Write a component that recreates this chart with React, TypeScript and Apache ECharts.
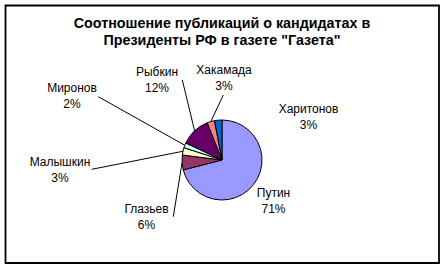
import React, { useEffect, useRef } from "react";
import * as echarts from "echarts";

const titleText = 'Соотношение публикаций о кандидатах в\nПрезиденты РФ в газете "Газета"';
const names = ["Путин", "Глазьев", "Малышкин", "Миронов", "Рыбкин", "Хакамада", "Харитонов"];
const values = [71, 6, 3, 2, 12, 3, 3];
const colors = ["#9999FF", "#993366", "#FFFFCC", "#CCFFFF", "#660066", "#FF8080", "#0066CC"];

// label block centres and leader-line ends (layout only)
const labelCenters: [number, number][] = [
  [273.5, 200.5],
  [146.5, 216.7],
  [60, 169.5],
  [72, 95.8],
  [157, 79.8],
  [224, 77.5],
  [308.5, 116.8],
];
const lineEnds: ([number, number] | null)[] = [
  null,
  [173.3, 216.7],
  [91.7, 169.3],
  [98.3, 96.7],
  [182.3, 80],
  [223.3, 95],
  null,
];

const FONT = "'Liberation Sans', Arial, sans-serif";

export default function App() {
  const ref = useRef<HTMLDivElement>(null);
  useEffect(() => {
    if (!ref.current) return;
    const chart = echarts.init(ref.current, undefined, { renderer: "svg" });
    chart.setOption({
      animation: false,
      backgroundColor: "#ffffff",
      title: {
        text: titleText,
        left: "center",
        top: 14,
        padding: 0,
        textStyle: {
          fontFamily: FONT,
          fontSize: 14.3,
          fontWeight: "bold",
          lineHeight: 17,
          color: "#000",
        },
      },
      graphic: [
        {
          type: "rect",
          shape: { x: 5.5, y: 5.5, width: 433.5, height: 257.5 },
          style: { fill: "none", stroke: "#000", lineWidth: 1.8 },
          silent: true,
        },
      ],
      series: [
        {
          type: "pie",
          center: [222, 160],
          radius: 40,
          startAngle: 90,
          clockwise: true,
          avoidLabelOverlap: false,
          itemStyle: { borderColor: "#000", borderWidth: 1 },
          label: {
            show: true,
            position: "outside",
            fontFamily: FONT,
            fontSize: 12,
            lineHeight: 16,
            color: "#000",
            align: "center",
            formatter: (p: any) => `${p.name}\n${Math.round(p.percent)}%`,
          },
          labelLine: {
            show: true,
            lineStyle: { color: "#000", width: 1 },
          },
          labelLayout: (p: any) => {
            const i = p.dataIndex;
            const c = labelCenters[i];
            const end = lineEnds[i];
            const res: any = {
              x: c[0],
              y: c[1],
              align: "center",
              verticalAlign: "middle",
            };
            if (end && p.labelLinePoints && p.labelLinePoints[0]) {
              const s = p.labelLinePoints[0];
              res.labelLinePoints = [
                [s[0], s[1]],
                [end[0], end[1]],
                [end[0], end[1]],
              ];
            }
            return res;
          },
          data: names.map((n, i) => ({
            name: n,
            value: values[i],
            itemStyle: { color: colors[i] },
            labelLine: { show: lineEnds[i] !== null },
          })),
        },
      ],
    });
    return () => chart.dispose();
  }, []);
  return (
    <div
      ref={ref}
      style={{ position: "absolute", left: 0, top: 0, width: 444, height: 268 }}
    />
  );
}
